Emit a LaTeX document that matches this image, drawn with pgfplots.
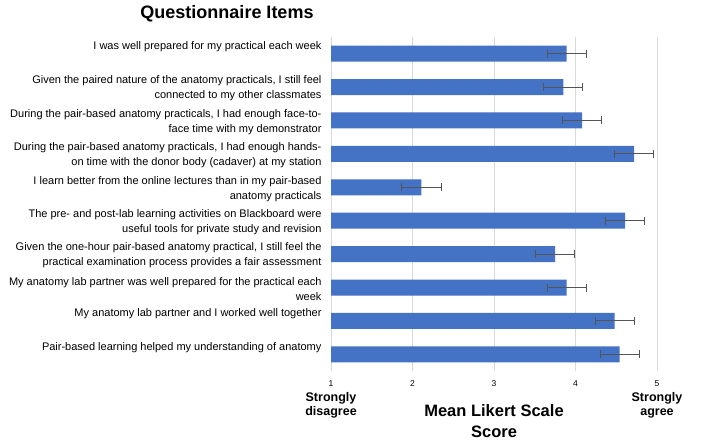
\documentclass[border=0pt]{standalone}
\usepackage{pgfplots}
\pgfplotsset{compat=1.18}
\usepackage{fontspec}
\setmainfont{Liberation Sans}
\definecolor{barblue}{RGB}{68,114,196}
\definecolor{gridgray}{RGB}{217,217,217}
\definecolor{errgray}{RGB}{85,85,85}
\pgfplotstableread{
pos mean err
0 3.89 0.24
1 3.85 0.24
2 4.08 0.24
3 4.72 0.24
4 2.11 0.24
5 4.61 0.24
6 3.75 0.24
7 3.89 0.24
8 4.48 0.24
9 4.54 0.24
}\likert
\begin{document}
\begin{tikzpicture}
\path[use as bounding box] (0pt,0pt) rectangle (709pt,441pt);
\begin{axis}[
  at={(331pt,70pt)}, anchor=south west,
  scale only axis, width=326pt, height=334pt,
  xmin=1, xmax=5, ymin=-0.5, ymax=9.5, y dir=reverse,
  axis line style={draw=none},
  major tick length=0pt,
  xmajorgrids, grid style={gridgray, line width=0.8pt},
  xtick={1,2,3,4,5},
  xticklabels={
    {1\\[1pt]{\fontsize{12.5}{14}\selectfont\bfseries Strongly}\\{\fontsize{12.5}{14}\selectfont\bfseries disagree}},
    2, 3, 4,
    {5\\[1pt]{\fontsize{12.5}{14}\selectfont\bfseries Strongly}\\{\fontsize{12.5}{14}\selectfont\bfseries agree}}},
  xticklabel style={align=center, anchor=north, font=\fontsize{8.5}{14}\selectfont, yshift=-6pt},
  ytick={0,...,9},
  yticklabels={
    {I was well prepared for my practical each week\\ \strut},
    {Given the paired nature of the anatomy practicals, I still feel\\connected to my other classmates},
    {During the pair-based anatomy practicals, I had enough face-to-\\face time with my demonstrator},
    {During the pair-based anatomy practicals, I had enough hands-\\on time with the donor body (cadaver) at my station},
    {I learn better from the online lectures than in my pair-based\\anatomy practicals},
    {The pre- and post-lab learning activities on Blackboard were\\useful tools for private study and revision},
    {Given the one-hour pair-based anatomy practical, I still feel the\\practical examination process provides a fair assessment},
    {My anatomy lab partner was well prepared for the practical each\\week},
    {My anatomy lab partner and I worked well together\\ \strut},
    {Pair-based learning helped my understanding of anatomy\\ \strut}},
  yticklabel style={align=right, font=\fontsize{11}{15}\selectfont, xshift=-6pt, yshift=-1.5pt},
  /pgf/number format/assume math mode=true,
  xlabel={Mean Likert Scale\\Score},
  xlabel style={at={(axis description cs:0.5,0)}, anchor=north, yshift=-30pt,
    align=center, font=\fontsize{16.5}{21}\selectfont\bfseries},
]
\addplot[xbar, bar width=16pt, fill=barblue, draw=none,
  error bars/.cd, x dir=both, x explicit, error mark=|,
  error bar style={errgray, line width=0.9pt},
  error mark options={errgray, mark size=4pt, line width=0.9pt}]
  table[x=mean, y=pos, x error=err] {\likert};
\end{axis}
\node[font=\fontsize{18}{21}\selectfont\bfseries] at (227pt,427pt) {Questionnaire Items};
\end{tikzpicture}
\end{document}
